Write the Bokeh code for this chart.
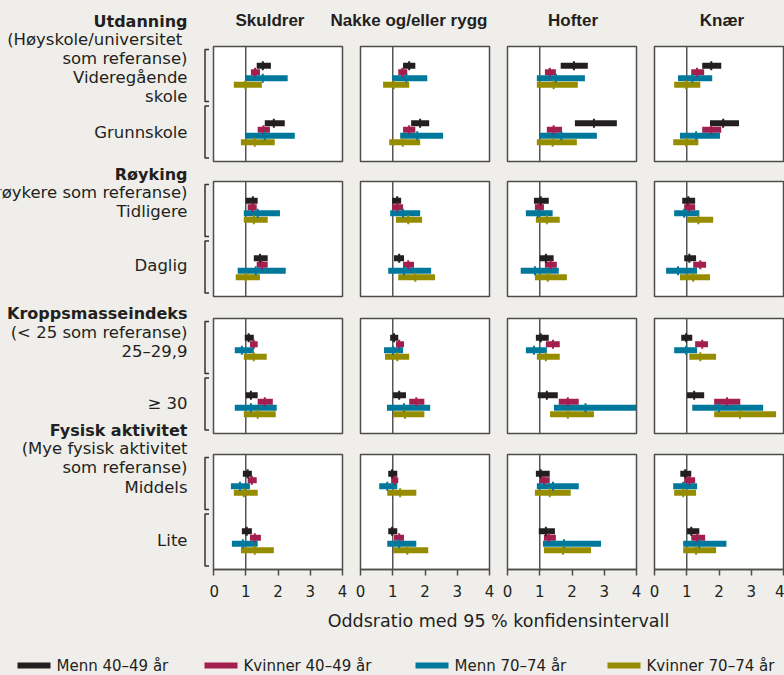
from bokeh.plotting import figure
from bokeh.models import Range1d, FixedTicker, Span, ColumnDataSource
from bokeh.layouts import row, column
from bokeh.embed import file_html
from bokeh.resources import INLINE
from bokeh.core.properties import value

# ---------------- data ----------------
series = ["Menn 40–49 år", "Kvinner 40–49 år", "Menn 70–74 år", "Kvinner 70–74 år"]
colors = ["#231f20", "#a31f4f", "#00789c", "#968c00"]
body_parts = ["Skuldrer", "Nakke og/eller rygg", "Hofter", "Knær"]
x_ticks = [0, 1, 2, 3, 4]
axis_title = "Oddsratio med 95 % konfidensintervall"

# each list: one row per body part, values for [M40-49, K40-49, M70-74, K70-74]
# Utdanning - Videregående skole
vgs_lo = [[1.34, 1.16, 1.00, 0.63], [1.32, 1.17, 0.98, 0.70], [1.65, 1.16, 0.91, 0.91], [1.48, 1.14, 0.73, 0.61]]
vgs_est = [[1.53, 1.29, 1.53, 0.99], [1.51, 1.30, 1.42, 1.03], [2.06, 1.31, 1.50, 1.43], [1.76, 1.32, 1.17, 0.98]]
vgs_hi = [[1.78, 1.44, 2.30, 1.50], [1.70, 1.45, 2.07, 1.51], [2.49, 1.50, 2.40, 2.18], [2.07, 1.54, 1.79, 1.42]]
# Utdanning - Grunnskole
grs_lo = [[1.59, 1.37, 1.00, 0.85], [1.57, 1.32, 1.23, 0.89], [2.09, 1.22, 1.00, 0.91], [1.72, 1.48, 0.79, 0.58]]
grs_est = [[1.87, 1.55, 1.59, 1.28], [1.85, 1.51, 1.76, 1.31], [2.68, 1.43, 1.67, 1.40], [2.13, 1.76, 1.29, 0.98]]
grs_hi = [[2.21, 1.75, 2.52, 1.90], [2.13, 1.70, 2.56, 1.85], [3.39, 1.69, 2.77, 2.15], [2.62, 2.07, 2.03, 1.36]]
# Røyking - Tidligere
tid_lo = [[1.00, 1.06, 0.94, 0.94], [0.98, 0.98, 0.92, 1.10], [0.82, 0.85, 0.57, 0.88], [0.86, 0.92, 0.61, 1.01]]
tid_est = [[1.22, 1.20, 1.37, 1.25], [1.14, 1.14, 1.32, 1.48], [1.03, 0.97, 0.94, 1.22], [1.05, 1.08, 0.92, 1.36]]
tid_hi = [[1.37, 1.34, 2.06, 1.68], [1.26, 1.32, 1.85, 1.91], [1.28, 1.13, 1.40, 1.62], [1.26, 1.26, 1.39, 1.82]]
# Røyking - Daglig
dag_lo = [[1.25, 1.34, 0.75, 0.69], [1.04, 1.32, 0.86, 1.17], [1.00, 1.16, 0.41, 0.85], [0.92, 1.20, 0.36, 0.79]]
dag_est = [[1.44, 1.50, 1.31, 1.00], [1.20, 1.48, 1.35, 1.70], [1.19, 1.34, 0.85, 1.25], [1.08, 1.42, 0.73, 1.20]]
dag_hi = [[1.68, 1.68, 2.24, 1.44], [1.35, 1.66, 2.19, 2.31], [1.43, 1.53, 1.59, 1.84], [1.29, 1.60, 1.32, 1.72]]
# KMI 25-29,9
kmi25_lo = [[0.97, 1.13, 0.66, 0.94], [0.92, 1.10, 0.73, 0.76], [0.88, 1.19, 0.57, 0.91], [0.83, 1.26, 0.61, 1.08]]
kmi25_est = [[1.09, 1.25, 0.88, 1.25], [1.04, 1.20, 1.01, 1.14], [1.03, 1.41, 0.82, 1.19], [0.98, 1.48, 0.98, 1.42]]
kmi25_hi = [[1.25, 1.37, 1.25, 1.65], [1.17, 1.35, 1.32, 1.51], [1.28, 1.62, 1.22, 1.62], [1.17, 1.66, 1.32, 1.91]]
# KMI >= 30
kmi30_lo = [[1.00, 1.37, 0.66, 0.94], [1.01, 1.51, 0.82, 1.01], [0.94, 1.59, 1.44, 1.32], [1.01, 1.85, 1.17, 1.85]]
kmi30_est = [[1.16, 1.59, 1.16, 1.37], [1.20, 1.73, 1.35, 1.38], [1.22, 1.87, 2.42, 1.87], [1.23, 2.25, 2.00, 2.65]]
kmi30_hi = [[1.37, 1.84, 1.96, 1.93], [1.41, 1.98, 2.16, 1.98], [1.56, 2.21, 4.06, 2.68], [1.54, 2.66, 3.37, 3.77]]
# Fysisk aktivitet - Middels
mid_lo = [[0.91, 1.06, 0.54, 0.63], [0.86, 0.95, 0.58, 0.83], [0.88, 1.00, 0.91, 0.85], [0.80, 0.92, 0.58, 0.61]]
mid_est = [[1.06, 1.19, 0.82, 0.94], [0.98, 1.07, 0.83, 1.23], [1.03, 1.13, 1.41, 1.31], [0.95, 1.08, 0.89, 0.89]]
mid_hi = [[1.19, 1.34, 1.13, 1.37], [1.14, 1.17, 1.14, 1.73], [1.31, 1.31, 2.21, 1.96], [1.14, 1.26, 1.32, 1.29]]
# Fysisk aktivitet - Lite
lit_lo = [[0.88, 1.13, 0.57, 0.85], [0.86, 1.04, 0.83, 1.01], [0.97, 1.13, 1.10, 1.13], [1.01, 1.14, 0.89, 0.89]]
lit_est = [[1.03, 1.28, 0.91, 1.28], [0.98, 1.20, 1.20, 1.45], [1.19, 1.28, 1.75, 1.72], [1.14, 1.32, 1.39, 1.29]]
lit_hi = [[1.19, 1.47, 1.37, 1.87], [1.14, 1.35, 1.73, 2.10], [1.47, 1.50, 2.90, 2.59], [1.39, 1.57, 2.23, 1.91]]

groups = [
    ("Utdanning", [(vgs_lo, vgs_est, vgs_hi), (grs_lo, grs_est, grs_hi)]),
    ("Røyking", [(tid_lo, tid_est, tid_hi), (dag_lo, dag_est, dag_hi)]),
    ("Kroppsmasseindeks", [(kmi25_lo, kmi25_est, kmi25_hi), (kmi30_lo, kmi30_est, kmi30_hi)]),
    ("Fysisk aktivitet", [(mid_lo, mid_est, mid_hi), (lit_lo, lit_est, lit_hi)]),
]

# left-hand text: (text, y, bold)
row_labels = [
    [("Utdanning", 21, True), ("(Høyskole/universitet ", 39, False), ("som referanse)", 58, False),
     ("Videregående", 77, False), ("skole", 96, False), ("Grunnskole", 132, False)],
    [("Røyking", 174, True), ("(Ikke-røykere som referanse)", 192, False), ("Tidligere", 211, False),
     ("Daglig", 265, False)],
    [("Kroppsmasseindeks", 313, True), ("(< 25 som referanse)", 332, False), ("25–29,9", 351, False),
     ("≥ 30", 403, False)],
    [("Fysisk aktivitet", 430, True), ("(Mye fysisk aktivitet", 448, False), ("som referanse)", 467, False),
     ("Middels", 487, False), ("Lite", 540, False)],
]

# ---------------- styling / layout ----------------
BG = "#efeeea"
FONT = "DejaVu Sans"
TFONT = "Liberation Sans"
TXT = "#231f20"
FRAME_W, FRAME_H = 129, 115
LAB_W = 209
TEXT_RIGHT = 187
PX_PER_Y = FRAME_H / 2.0
bar_off_px = [-9.5, -3.0, 3.0, 9.5]
bar_h = 6 / PX_PER_Y
title_dx = [-8, -16, 1, 3]

col_bl = [4, 9, 9, 9]
col_br = [9, 9, 9, 1]
row_bt = [1, 10, 10, 10]
row_bb = [10, 12, 11, 36]
HEAD_H = 45
TOTAL_W, TOTAL_H = 784, 675

total_grid_h = HEAD_H + sum(row_bt[r] + FRAME_H + row_bb[r] for r in range(4))
total_w = LAB_W + sum(col_bl[c] + FRAME_W + col_br[c] for c in range(4))

frame_left = []
x = LAB_W
for c in range(4):
    frame_left.append(x + col_bl[c])
    x += col_bl[c] + FRAME_W + col_br[c]
frame_top = []
y = HEAD_H
for r in range(4):
    frame_top.append(y + row_bt[r])
    y += row_bt[r] + FRAME_H + row_bb[r]

BGSTYLE = {"background-color": BG}


def make_panel(r, c):
    lo_est_hi = groups[r][1]
    ys, los, ests, his, cols = [], [], [], [], []
    for k, (lo, est, hi) in enumerate(lo_est_hi):
        for s in range(4):
            ys.append(k + 0.5 + bar_off_px[s] / PX_PER_Y)
            los.append(lo[c][s])
            ests.append(est[c][s])
            his.append(hi[c][s])
            cols.append(colors[s])
    src = ColumnDataSource(dict(y=ys, lo=los, est=ests, hi=his, color=cols))
    w = col_bl[c] + FRAME_W + col_br[c]
    h = row_bt[r] + FRAME_H + row_bb[r]
    p = figure(width=w, height=h, x_range=Range1d(0, 4), y_range=Range1d(2, 0),
               output_backend="svg", toolbar_location=None,
               x_axis_location="below" if r == 3 else None, y_axis_location=None,
               min_border_left=col_bl[c], min_border_right=col_br[c],
               min_border_top=row_bt[r], min_border_bottom=row_bb[r],
               background_fill_color="white", border_fill_color=BG,
               outline_line_color="#4d4d4d", outline_line_width=1.5, styles=BGSTYLE)
    for g in p.grid:
        g.visible = False
    p.add_layout(Span(location=1, dimension="height", line_color="#555555",
                      line_width=1.5, level="underlay"))
    p.hbar(y="y", left="lo", right="hi", height=bar_h, fill_color="color",
           line_color=None, source=src)
    p.rect(x="est", y="y", width=2, height=9, width_units="screen", height_units="screen",
           fill_color="color", line_color=None, source=src)
    if r == 3:
        ax = p.xaxis[0]
        ax.ticker = FixedTicker(ticks=x_ticks)
        ax.axis_line_color = "#4d4d4d"
        ax.axis_line_width = 1.5
        ax.major_tick_line_color = "#4d4d4d"
        ax.major_tick_line_width = 1.5
        ax.major_tick_in = 0
        ax.major_tick_out = 6
        ax.minor_tick_line_color = None
        ax.major_label_standoff = 9
        ax.major_label_text_font = FONT
        ax.major_label_text_font_size = "15px"
        ax.major_label_text_color = TXT
    return p


def blank_fig(w, h, xr, yr):
    f = figure(width=w, height=h, x_range=xr, y_range=yr, output_backend="svg",
               toolbar_location=None, x_axis_location=None, y_axis_location=None,
               min_border_left=0, min_border_right=0, min_border_top=0, min_border_bottom=0,
               background_fill_color=BG, border_fill_color=BG, outline_line_color=None,
               styles=BGSTYLE)
    for g in f.grid:
        g.visible = False
    return f


# header with column titles (page coordinates)
header = blank_fig(total_w - LAB_W, HEAD_H, Range1d(LAB_W, total_w), Range1d(HEAD_H, 0))
header.text(x=[fl + FRAME_W / 2 + dx for fl, dx in zip(frame_left, title_dx)], y=[20] * 4,
            text=body_parts, text_align="center", text_baseline="middle", text_font=value(TFONT),
            text_font_size="17px", text_font_style="bold", text_color=TXT)

# left label column (page coordinates)
lab = blank_fig(LAB_W, total_grid_h, Range1d(0, LAB_W), Range1d(total_grid_h, 0))
for r in range(4):
    for txt, ys, bold in row_labels[r]:
        lab.text(x=[TEXT_RIGHT], y=[ys], text=[txt], text_align="right", text_baseline="middle",
                 text_font=value(FONT), text_font_size="16px" if bold else "16.5px",
                 text_font_style="bold" if bold else "normal", text_color=TXT)
    t = frame_top[r]
    mid = t + FRAME_H / 2
    b = t + FRAME_H
    xs = [[LAB_W + 1, 204.5, 204.5, LAB_W + 1]] * 2
    yb = [[t + 3, t + 3, mid - 2.5, mid - 2.5], [mid + 2, mid + 2, b - 3.5, b - 3.5]]
    lab.multi_line(xs=xs, ys=yb, line_color="#333333", line_width=1.5)

grid = column([header] + [row([make_panel(r, c) for c in range(4)], styles=BGSTYLE) for r in range(4)],
              styles=BGSTYLE)
main = row(lab, grid, styles=BGSTYLE)

# bottom: axis title + legend (page coordinates)
BOT_H = TOTAL_H - total_grid_h
y0 = total_grid_h
bottom = blank_fig(total_w, BOT_H, Range1d(0, total_w), Range1d(y0 + BOT_H, y0))
bottom.text(x=[(frame_left[0] + frame_left[3] + FRAME_W) / 2], y=[620], text=[axis_title],
            text_align="center", text_baseline="middle", text_font=value(FONT),
            text_font_size="17.5px", text_color=TXT)
leg_x = [17, 204, 415, 607]
leg_y = 665
bottom.rect(x=[lx + 16.5 for lx in leg_x], y=[leg_y] * 4, width=33, height=6,
            fill_color=colors, line_color=None)
bottom.text(x=[lx + 39 for lx in leg_x], y=[leg_y] * 4, text=series, text_align="left",
            text_baseline="middle", text_font=value(FONT), text_font_size="15px",
            text_color=TXT)

layout = column(main, bottom, styles=BGSTYLE)

html = file_html(layout, INLINE)
html = html.replace("<body>", '<body style="background-color:#efeeea;">', 1)
open("out.html", "w").write(html)
